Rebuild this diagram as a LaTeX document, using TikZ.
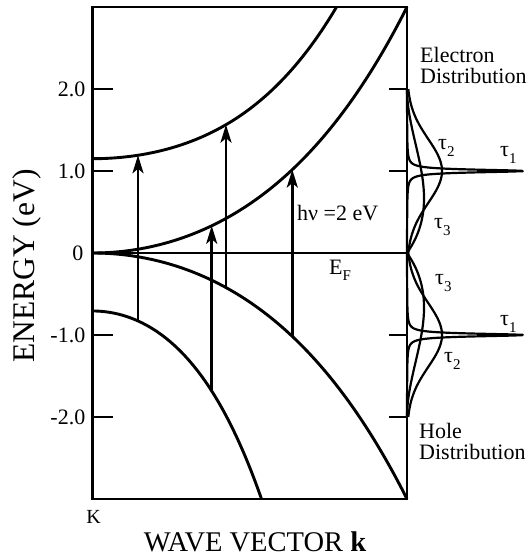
\documentclass[tikz,border=0pt]{standalone}
\usepackage{fontspec}
\setmainfont{Liberation Serif}
\usetikzlibrary{arrows.meta}
\newcommand\taulab[1]{τ\raisebox{-0.32em}{\fontsize{15}{15}\selectfont #1}}
\begin{document}
\begin{tikzpicture}[x=1pt,y=-1pt,
  declare function={
    yE(\x)=253-82*\x;
    cbA(\x)=1.15+1.188*(\x/244)^2+0.662*(\x/244)^4;
    cbB(\x)=2.195*(\x/314.5)^2+0.805*(\x/314.5)^4;
    vbB(\x)=-0.707-1.634*(\x/169)^2-0.659*(\x/169)^4;
  },
  band/.style={line width=2.9pt},
  frm/.style={line width=2.5pt},
  tck/.style={line width=1.5pt},
  fermi/.style={line width=1.1pt},
  trans/.style={line width=2.6pt,-{Stealth[length=18pt,width=11pt,inset=4.5pt]}},
  dist/.style={line width=2.2pt,line join=round},
  lab/.style={font=\fontsize{22}{26}\selectfont,inner sep=0pt},
  sub/.style={font=\fontsize{22}{26}\selectfont,inner sep=0pt,anchor=base west}]
\useasboundingbox (0,0) rectangle (527,556);

% bands
\draw[band] (92.5,{yE(1.15)}) -- plot[domain=1:244,samples=100] ({92.5+\x},{yE(cbA(\x))});
\draw[band] (92.5,253) -- plot[domain=1:314.5,samples=120] ({92.5+\x},{yE(cbB(\x))});
\draw[band] (92.5,253) -- plot[domain=1:314.5,samples=120] ({92.5+\x},{yE(0-cbB(\x))});
\draw[band] (92.5,{yE(-0.707)}) -- plot[domain=1:169,samples=80] ({92.5+\x},{yE(vbB(\x))});

% Fermi level
\coordinate (efl) at (92.5,253);
\coordinate (efr) at (407,253);
\draw[fermi] (efl) -- (efr);

% frame
\draw[frm] (92.5,7) rectangle (407,499);

% ticks
\foreach \e in {2,1,0,-1,-2}{
  \draw[tck] (92.5,{yE(\e)}) -- (113,{yE(\e)});
  \draw[tck] (389,{yE(\e)}) -- (407,{yE(\e)});
}

% transitions
\coordinate (a1s) at (138,{yE(vbB(45.5))});
\coordinate (a1e) at (138,{yE(cbA(45.5))});
\coordinate (a2s) at (211.7,{yE(vbB(119.2))});
\coordinate (a2e) at (211.7,{yE(cbB(119.2))});
\coordinate (a3s) at (226,{yE(0-cbB(133.5))});
\coordinate (a3e) at (226,{yE(cbA(133.5))});
\coordinate (a4s) at (292.3,{yE(0-cbB(199.8))});
\coordinate (a4e) at (292.3,{yE(cbB(199.8))});
\draw[trans] (a1s) -- (a1e);
\draw[trans] (a2s) -- (a2e);
\draw[trans] (a3s) -- (a3e);
\draw[trans] (a4s) -- (a4e);

% electron distributions
\draw[dist] plot[domain=0:2,samples=401] ({407+117/(1+((\x-1)/0.02)*((\x-1)/0.02))},{yE(\x)});
\draw[dist] plot[domain=0:2,samples=81] ({407+35*exp(-(\x-1)*(\x-1)/0.3042)},{yE(\x)});
\draw[dist] plot[domain=0:2,samples=81] ({407+14.35*\x*(2-\x)*(2-\x)},{yE(\x)});
% hole distributions
\draw[dist] plot[domain=0:2,samples=401] ({407+117/(1+((\x-1)/0.02)*((\x-1)/0.02))},{yE(0-\x)});
\draw[dist] plot[domain=0:2,samples=81] ({407+35*exp(-(\x-1)*(\x-1)/0.3042)},{yE(0-\x)});
\draw[dist] plot[domain=0:2,samples=81] ({407+14.35*\x*(2-\x)*(2-\x)},{yE(0-\x)});

% tick labels
\node[lab,anchor=east] (l2) at (85.5,89) {2.0};
\node[lab,anchor=east] (l1) at (85.5,171) {1.0};
\node[lab,anchor=east] (l0) at (83.5,253) {0};
\node[lab,anchor=east] (lm1) at (85.5,335) {-1.0};
\node[lab,anchor=east] (lm2) at (85.5,417) {-2.0};

% axis labels
\node[font=\fontsize{20}{20}\selectfont,inner sep=0pt,anchor=base] (kpt) at (93.5,523) {K};
\node[font=\fontsize{28.5}{28.5}\selectfont,inner sep=0pt,anchor=base] (xlab) at (255,551) {WAVE VECTOR \textbf{k}};
\node[font=\fontsize{31.5}{31.5}\selectfont,inner sep=0pt,rotate=90] (ylab) at (27,266) {ENERGY (eV)};

% other labels
\node[lab,anchor=west] (hv) at (297,213) {hν =2 eV};
\node[sub] (ef) at (329,274) {E\raisebox{-0.3em}{\fontsize{15}{15}\selectfont F}};
\node[sub] (el1) at (420,63) {Electron};
\node[sub] (el2) at (420,84) {Distribution};
\node[sub] (ho1) at (419,438) {Hole};
\node[sub] (ho2) at (419,459) {Distribution};

% tau labels
\node[sub] (et2) at (438,149.5) {\taulab{2}};
\node[sub] (et1) at (500,156.5) {\taulab{1}};
\node[sub] (et3) at (434,228.5) {\taulab{3}};
\node[sub] (ht3) at (435,284.5) {\taulab{3}};
\node[sub] (ht1) at (500,325.5) {\taulab{1}};
\node[sub] (ht2) at (444,362.5) {\taulab{2}};
\end{tikzpicture}
\end{document}
